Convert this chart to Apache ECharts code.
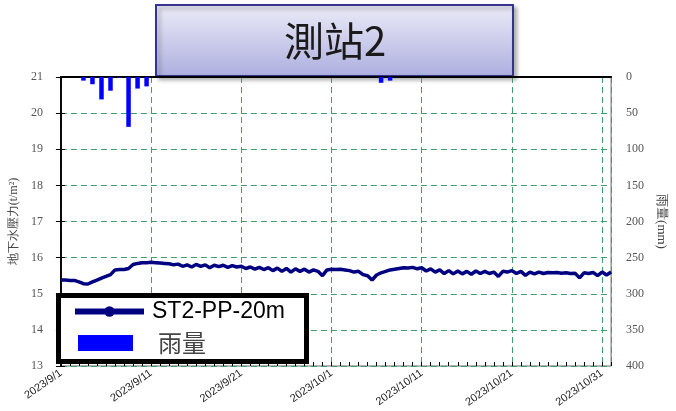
<!DOCTYPE html>
<html>
<head>
<meta charset="utf-8">
<script src="https://cdn.jsdelivr.net/npm/echarts@6/dist/echarts.min.js"></script>
<style>
  html, body { margin: 0; padding: 0; background: #fff; }
  #chart { width: 676px; height: 411px; }
</style>
</head>
<body>
<div id="chart"></div>
<script>
// day 0 = 2023/9/1 00:00
const startDate = [2023, 8, 1]
const dayTicks = [0, 10, 20, 30, 40, 50, 60]

// ST2-PP-20m, one reading every 12 hours from 2023/9/1 00:00
const ppValues = [
  15.38, 15.38, 15.37, 15.37, 15.33, 15.28, 15.27, 15.33, 15.38, 15.43,
  15.48, 15.53, 15.66, 15.67, 15.67, 15.70, 15.81, 15.84, 15.86, 15.86,
  15.87, 15.86, 15.85, 15.84, 15.83, 15.80, 15.82, 15.76, 15.80, 15.74,
  15.81, 15.76, 15.80, 15.72, 15.79, 15.75, 15.79, 15.73, 15.78, 15.74,
  15.76, 15.70, 15.74, 15.68, 15.73, 15.67, 15.72, 15.64, 15.71, 15.62,
  15.70, 15.60, 15.69, 15.62, 15.68, 15.60, 15.66, 15.62, 15.50, 15.66,
  15.68, 15.67, 15.68, 15.66, 15.64, 15.60, 15.62, 15.53, 15.50, 15.38,
  15.52, 15.58, 15.62, 15.66, 15.68, 15.70, 15.72, 15.71, 15.73, 15.69,
  15.72, 15.63, 15.69, 15.60, 15.66, 15.56, 15.64, 15.55, 15.63, 15.55,
  15.62, 15.54, 15.63, 15.56, 15.62, 15.56, 15.60, 15.48, 15.62, 15.60,
  15.64, 15.56, 15.62, 15.51, 15.60, 15.55, 15.60, 15.56, 15.59, 15.58,
  15.59, 15.57, 15.58, 15.56, 15.57, 15.44, 15.58, 15.56, 15.59, 15.50,
  15.60, 15.52, 15.60
]

// daily rainfall (mm), day index from 9/1
const rainDays = [2, 3, 4, 5, 6, 7, 8, 9, 35, 36]
const rainValues = [5, 10, 31, 19, 1, 69, 16, 13, 8, 5]

function dayLabel (d) {
  const dt = new Date(Date.UTC(startDate[0], startDate[1], startDate[2] + d))
  return dt.getUTCFullYear() + '/' + (dt.getUTCMonth() + 1) + '/' + dt.getUTCDate()
}

const lineData = ppValues.map((v, i) => [i * 0.5, v])
const barData = rainDays.map((d, i) => [d + 0.5, rainValues[i]])

const chart = echarts.init(document.getElementById('chart'))
const gridColor = '#3f9e6c'

const option = {
  animation: false,
  grid: {
    left: 55, right: 59, top: 77, bottom: 45,
    show: true, borderColor: '#666', borderWidth: 1
  },
  xAxis: [
    {
      type: 'value',
      min: 0,
      max: 61,
      interval: 10,
      axisLine: { lineStyle: { color: '#000', width: 2 } },
      axisTick: { show: false },
      axisLabel: {
        rotate: 35,
        fontSize: 11,
        color: '#222',
        fontFamily: 'Liberation Sans',
        margin: 6,
        formatter: function (v) {
          return dayTicks.indexOf(v) >= 0 ? dayLabel(v) : ''
        }
      },
      splitLine: { lineStyle: { color: gridColor, type: [6, 4], width: 1 } }
    },
    {
      type: 'value',
      min: 0,
      max: 61,
      interval: 1,
      position: 'bottom',
      axisLine: { show: false },
      axisTick: { show: true, inside: true, length: 4, lineStyle: { color: '#000', width: 1 } },
      axisLabel: { show: false },
      splitLine: { show: false }
    }
  ],
  yAxis: [
    {
      type: 'value',
      min: 13,
      max: 21,
      interval: 1,
      name: '地下水壓力(t/m²)',
      nameLocation: 'middle',
      nameGap: 37,
      nameTextStyle: { fontSize: 12, color: '#444', fontFamily: 'Liberation Serif' },
      axisLine: { show: true, lineStyle: { color: '#000', width: 1.5 } },
      axisTick: { show: true, inside: true, length: 4, lineStyle: { color: '#000' } },
      axisLabel: { fontSize: 12, color: '#555', fontFamily: 'Liberation Serif', margin: 18 },
      splitLine: { lineStyle: { color: gridColor, type: [6, 4], width: 1 } }
    },
    {
      type: 'value',
      min: 0,
      max: 400,
      interval: 50,
      inverse: true,
      position: 'right',
      name: '雨量(mm)',
      nameLocation: 'middle',
      nameRotate: -90,
      nameGap: 38,
      nameTextStyle: { fontSize: 13, color: '#444', fontFamily: 'Liberation Serif' },
      axisLine: { show: true, lineStyle: { color: '#000', width: 1.5 } },
      axisTick: { show: true, inside: true, length: 5, lineStyle: { color: '#000' } },
      axisLabel: { fontSize: 12, color: '#555', fontFamily: 'Liberation Serif', margin: 15 },
      splitLine: { show: false }
    }
  ],
  legend: [
    {
      data: ['ST2-PP-20m'],
      left: 72,
      top: 300,
      padding: 0,
      itemWidth: 69,
      itemHeight: 13,
      lineStyle: { width: 6 },
      textStyle: { fontSize: 23, color: '#000', fontFamily: 'Liberation Sans', padding: [0, 0, 0, 3] }
    },
    {
      data: ['雨量'],
      icon: 'rect',
      left: 78,
      top: 331,
      padding: 0,
      itemWidth: 55,
      itemHeight: 16,
      textStyle: { fontSize: 24, color: '#444', fontFamily: 'Noto Sans CJK TC', padding: [0, 0, 0, 20] }
    }
  ],
  graphic: [
    {
      type: 'rect',
      z: 3,
      shape: { x: 58.5, y: 295.5, width: 248, height: 66 },
      style: { fill: '#fff', stroke: '#000', lineWidth: 5 }
    },
    {
      type: 'group',
      z: 10,
      children: [
        {
          type: 'rect',
          shape: { x: 156, y: 5, width: 357, height: 71 },
          style: {
            fill: new echarts.graphic.LinearGradient(0, 0, 0, 1, [
              { offset: 0, color: '#ececf8' },
              { offset: 1, color: '#adaedf' }
            ]),
            stroke: '#34348c',
            lineWidth: 2,
            shadowBlur: 4,
            shadowOffsetX: 3,
            shadowOffsetY: 3,
            shadowColor: 'rgba(0,0,0,0.3)'
          }
        },
        {
          type: 'text',
          style: {
            x: 335,
            y: 41,
            text: '測站2',
            fill: '#1a1a1a',
            font: '40px "Noto Sans CJK TC"',
            align: 'center',
            verticalAlign: 'middle'
          }
        }
      ]
    }
  ],
  series: [
    {
      name: '雨量',
      type: 'bar',
      xAxisIndex: 0,
      yAxisIndex: 1,
      barWidth: 4.5,
      itemStyle: { color: '#0000ff' },
      data: barData
    },
    {
      name: 'ST2-PP-20m',
      type: 'line',
      xAxisIndex: 0,
      yAxisIndex: 0,
      symbol: 'circle',
      symbolSize: 6,
      showSymbol: false,
      itemStyle: { color: '#000080' },
      lineStyle: { color: '#000080', width: 3.5 },
      data: lineData
    }
  ]
}

chart.setOption(option)
</script>
</body>
</html>
